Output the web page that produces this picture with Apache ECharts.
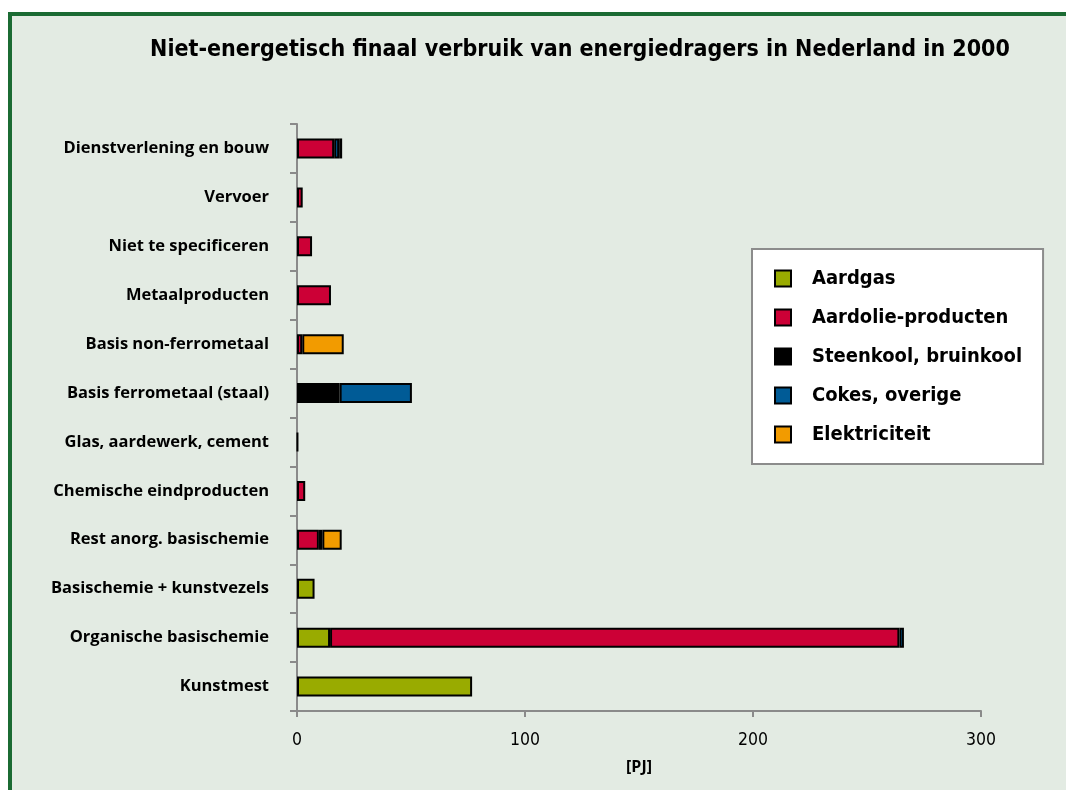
<!DOCTYPE html>
<html>
<head>
<meta charset="utf-8">
<script src="https://cdn.jsdelivr.net/npm/echarts@6/dist/echarts.min.js"></script>
<style>
  html, body { margin: 0; padding: 0; background: #fff; }
  #chart { width: 1066px; height: 790px; }
</style>
</head>
<body>
<div id="chart"></div>
<script>
// categories top to bottom
var categories = ['Dienstverlening en bouw', 'Vervoer', 'Niet te specificeren', 'Metaalproducten',
  'Basis non-ferrometaal', 'Basis ferrometaal (staal)', 'Glas, aardewerk, cement',
  'Chemische eindproducten', 'Rest anorg. basischemie', 'Basischemie + kunstvezels',
  'Organische basischemie', 'Kunstmest'];

// values in PJ
var aardgas   = [null, null, null, null, null, null, 0.4, null, null, 7.7, 14.5, 76.8];
var aardolie  = [16.3, 2.5, 6.6, 14.9, 2.3, null, null, 3.6, 9.6, null, 249.7, null];
var steenkool = [null, null, null, null, null, 18.7, null, null, null, null, null, null];
var cokes     = [2.2, null, null, null, null, 31.7, null, null, 1.5, null, 2.0, null];
var elektr    = [1.3, null, null, null, 18.2, null, null, null, 8.5, null, null, null];

var xTicks = [0, 100, 200, 300];

var narrow = '"DejaVu Sans Condensed", "Liberation Sans Narrow", sans-serif';

function bar(name, data, color){
  return {
    name: name, type: 'bar', stack: 'tot', data: data,
    barWidth: 20,
    itemStyle: { color: color, borderColor: '#000', borderWidth: 2 }
  };
}

var chart = echarts.init(document.getElementById('chart'));
chart.setOption({
  backgroundColor: '#fff',
  animation: false,
  graphic: [{
    type: 'rect', z: -10,
    shape: { x: 10, y: 14, width: 1080, height: 800 },
    style: { fill: '#e3ebe3', stroke: '#1b6b33', lineWidth: 4 }
  }],
  title: {
    text: 'Niet-energetisch finaal verbruik van energiedragers in Nederland in 2000',
    left: 575, top: 34, textAlign: 'center',
    textStyle: { fontFamily: narrow, fontWeight: 'bold', fontSize: 23, color: '#000' }
  },
  legend: {
    orient: 'vertical', left: 752, top: 249,
    backgroundColor: '#fff', borderColor: '#8c8c8c', borderWidth: 2,
    padding: [19, 21, 19, 22],
    icon: 'rect',
    itemWidth: 16, itemHeight: 16, itemGap: 18,
    textStyle: { fontFamily: narrow, fontWeight: 'bold', fontSize: 20, color: '#000',
      lineHeight: 21, padding: [0, 0, 0, 16] }
  },
  grid: { left: 297, right: 85, top: 124, bottom: 79 },
  xAxis: {
    type: 'value', min: xTicks[0], max: xTicks[xTicks.length - 1], interval: 100,
    name: '[PJ]', nameLocation: 'middle', nameGap: 48,
    nameTextStyle: { fontFamily: 'Open Sans', fontWeight: 'bold', fontSize: 16, color: '#000' },
    splitLine: { show: false },
    axisLine: { show: true, lineStyle: { color: '#8a8a8a', width: 2 } },
    axisTick: { show: true, length: 6, lineStyle: { color: '#8a8a8a', width: 2 } },
    axisLabel: { margin: 20, fontFamily: narrow, fontSize: 17.5, color: '#000' }
  },
  yAxis: {
    type: 'category', data: categories, inverse: true,
    axisLine: { lineStyle: { color: '#8a8a8a', width: 2 } },
    axisTick: { show: true, length: 7, lineStyle: { color: '#8a8a8a', width: 2 } },
    axisLabel: { margin: 28, fontFamily: 'Open Sans', fontWeight: 'bold', fontSize: 16.5, color: '#000' }
  },
  series: [
    bar('Aardgas', aardgas, '#99ab00'),
    bar('Aardolie-producten', aardolie, '#cc0036'),
    bar('Steenkool, bruinkool', steenkool, '#000000'),
    bar('Cokes, overige', cokes, '#005b96'),
    bar('Elektriciteit', elektr, '#f29b00')
  ]
});
</script>
</body>
</html>
